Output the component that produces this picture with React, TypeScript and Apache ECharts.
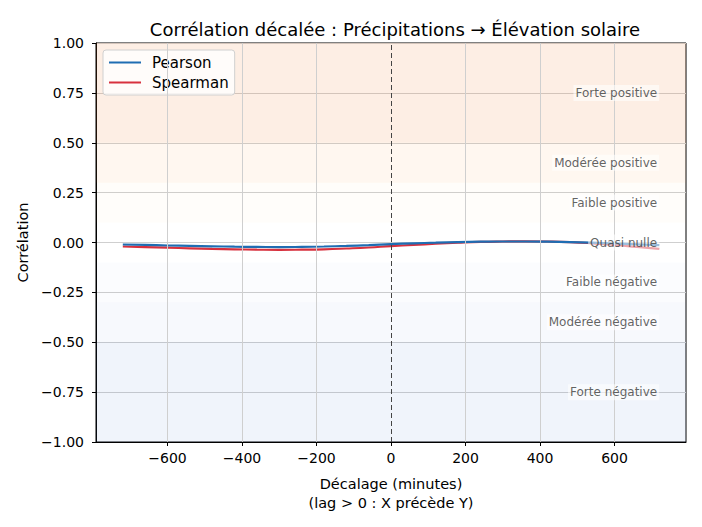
import React, { useEffect, useRef } from "react";
import * as echarts from "echarts";

const lags = [-720, -660, -600, -540, -480, -420, -360, -300, -240, -180, -120, -60, 0, 60, 120, 180, 240, 300, 360, 420, 480, 540, 600, 660, 720];
const pearson = [-0.010, -0.012, -0.015, -0.017, -0.019, -0.021, -0.022, -0.023, -0.022, -0.020, -0.017, -0.013, -0.008, -0.004, -0.001, 0.002, 0.004, 0.005, 0.005, 0.004, 0.002, -0.001, -0.005, -0.009, -0.013];
const spearman = [-0.020, -0.023, -0.026, -0.029, -0.032, -0.034, -0.036, -0.037, -0.036, -0.034, -0.030, -0.025, -0.018, -0.012, -0.006, -0.001, 0.003, 0.005, 0.006, 0.005, 0.002, -0.004, -0.012, -0.022, -0.032];

const bandNames = ["Forte positive", "Modérée positive", "Faible positive", "Quasi nulle", "Faible négative", "Modérée négative", "Forte négative"];
const bandLow = [0.5, 0.3, 0.1, -0.1, -0.3, -0.5, -1.0];
const bandHigh = [1.0, 0.5, 0.3, 0.1, -0.1, -0.3, -0.5];
const bandLabelY = [0.75, 0.4, 0.2, 0, -0.2, -0.4, -0.75];
const bandColors = [
  "rgba(240,120,50,0.13)",
  "rgba(250,150,60,0.08)",
  "rgba(250,150,60,0.025)",
  "rgba(255,255,255,0)",
  "rgba(70,120,200,0.02)",
  "rgba(70,120,200,0.045)",
  "rgba(70,120,200,0.08)",
];
const xTicks = [-600, -400, -200, 0, 200, 400, 600];
const xMin = -792;
const xMax = 792;

const FONT = "DejaVu Sans";

export default function App() {
  const ref = useRef<HTMLDivElement>(null);
  useEffect(() => {
    if (!ref.current) return;
    const chart = echarts.init(ref.current, undefined, { renderer: "svg" });
    const fmtMinus = (v: number, d: number) => {
      const s = Math.abs(v).toFixed(d);
      return v < 0 ? "\u2212" + s : s;
    };
    chart.setOption({
      animation: false,
      backgroundColor: "#ffffff",
      textStyle: { fontFamily: FONT },
      title: {
        text: "Corrélation décalée : Précipitations → Élévation solaire",
        left: 390,
        textAlign: "center",
        top: 15,
        textStyle: { fontFamily: FONT, fontSize: 18, fontWeight: "normal", color: "#000" },
      },
      legend: {
        orient: "vertical",
        left: 103,
        top: 50,
        padding: [5, 6, 5, 6],
        itemGap: 5,
        itemWidth: 32,
        itemHeight: 2,
        icon: "rect",
        backgroundColor: "rgba(255,255,255,0.8)",
        borderColor: "#d0d0d0",
        borderWidth: 1,
        borderRadius: 3,
        textStyle: { fontFamily: FONT, fontSize: 15, color: "#000", padding: [0, 0, 0, 6] },
        data: ["Pearson", "Spearman"],
      },
      grid: {
        left: 96,
        right: 16,
        top: 43,
        bottom: 85,
        show: true,
        borderColor: "#000",
        borderWidth: 1,
        backgroundColor: "transparent",
      },
      xAxis: {
        type: "value",
        min: xMin,
        max: xMax,
        name: "Décalage (minutes)\n(lag > 0 : X précède Y)",
        nameLocation: "middle",
        nameGap: 32,
        nameTextStyle: { fontFamily: FONT, fontSize: 14.5, color: "#000", lineHeight: 19 },
        axisLine: { show: true, onZero: false, lineStyle: { color: "#000", width: 1 } },
        axisTick: { show: true, length: 4, customValues: xTicks, lineStyle: { color: "#000" } },
        axisLabel: {
          customValues: xTicks,
          formatter: (v: number) => fmtMinus(v, 0),
          fontFamily: FONT,
          fontSize: 14,
          color: "#000",
          margin: 9,
        },
        splitLine: { show: false },
      },
      yAxis: {
        type: "value",
        min: -1,
        max: 1,
        interval: 0.25,
        name: "Corrélation",
        nameLocation: "middle",
        nameGap: 62,
        nameTextStyle: { fontFamily: FONT, fontSize: 14.5, color: "#000" },
        axisLine: { show: true, onZero: false, lineStyle: { color: "#000", width: 1 } },
        axisTick: { show: true, length: 4, lineStyle: { color: "#000" } },
        axisLabel: {
          formatter: (v: number) => fmtMinus(v, 2),
          fontFamily: FONT,
          fontSize: 14,
          color: "#000",
          margin: 12,
        },
        splitLine: { show: true, lineStyle: { color: "#cfcfcf", width: 1 } },
      },
      series: [
        {
          name: "bands",
          type: "line",
          data: [],
          silent: true,
          markArea: {
            silent: true,
            itemStyle: { borderWidth: 0 },
            data: bandNames.map((n, i) => [
              { yAxis: bandLow[i], xAxis: xMin, itemStyle: { color: bandColors[i] } },
              { yAxis: bandHigh[i], xAxis: xMax },
            ]),
          },
          markLine: {
            silent: true,
            symbol: "none",
            label: { show: false },
            data: xTicks.map((t) => ({
              xAxis: t,
              lineStyle:
                t === 0
                  ? { color: "#444", type: [5, 3], width: 1 }
                  : { color: "#cfcfcf", type: "solid", width: 1 },
            })),
          },
          z: 1,
        },
        {
          name: "Pearson",
          type: "line",
          data: lags.map((l, i) => [l, pearson[i]]),
          smooth: true,
          showSymbol: false,
          lineStyle: { color: "#1f6db2", width: 2.2 },
          itemStyle: { color: "#1f6db2" },
          z: 3,
        },
        {
          name: "Spearman",
          type: "line",
          data: lags.map((l, i) => [l, spearman[i]]),
          smooth: true,
          showSymbol: false,
          lineStyle: { color: "#d7313e", width: 2.2 },
          itemStyle: { color: "#d7313e" },
          z: 2,
        },
        {
          name: "bandLabels",
          type: "scatter",
          symbolSize: 0,
          silent: true,
          z: 5,
          data: bandNames.map((n, i) => ({ value: [720, bandLabelY[i]], name: n })),
          label: {
            show: true,
            position: "left",
            distance: 0,
            formatter: (p: any) => p.name,
            fontFamily: FONT,
            fontSize: 12,
            color: "#3a3a3a",
            backgroundColor: "rgba(255,255,255,0.7)",
            padding: [2, 2, 2, 2],
          },
        },
      ],
    });
    return () => chart.dispose();
  }, []);
  return <div ref={ref} style={{ width: 702, height: 527, position: "absolute", left: 0, top: 0 }} />;
}
